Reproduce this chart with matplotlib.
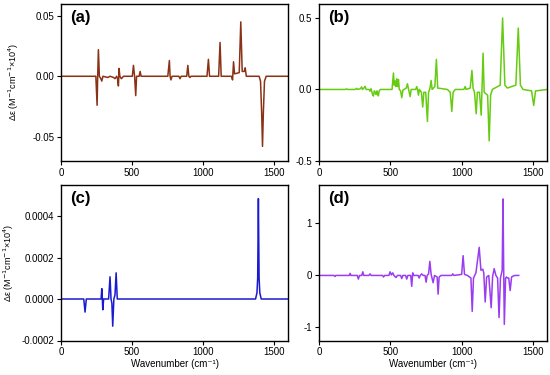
import matplotlib
matplotlib.use("Agg")
import matplotlib.pyplot as plt
from matplotlib.ticker import FormatStrFormatter

plt.rcParams['font.family'] = ['Liberation Sans', 'DejaVu Sans']
plt.rcParams['axes.unicode_minus'] = False

# panel (a) - wavenumber / delta eps
a_x = [0, 245, 254, 258, 263, 270, 280, 287, 295, 330, 345, 370, 380, 392, 398, 404, 409, 414,
       425, 440, 502, 510, 518, 526, 532, 550, 557, 564, 752, 763, 768, 774, 782, 830, 838, 846,
       885, 893, 900, 908, 915, 1028, 1038, 1046, 1110, 1120, 1128, 1200, 1208, 1215, 1222,
       1255, 1266, 1276, 1290, 1297, 1305, 1395, 1405, 1413, 1419, 1425, 1433, 1445, 1600]
a_y = [0, 0, -0.024, 0, 0.022, 0.0, -0.002, -0.004, 0, -0.001, 0, -0.001, -0.002, 0, -0.002,
       -0.008, 0.0065, 0, -0.002, 0, 0, 0.009, 0.0, -0.016, 0, 0, 0.004, 0, 0, 0.013, 0, -0.003,
       0, 0, -0.002, 0, 0, 0.009, 0, -0.001, 0, 0, 0.014, 0, 0, 0.028, 0, 0, -0.003, 0.012,
       0.002, 0.003, 0.045, 0.004, 0.004, 0.007, 0, 0, -0.004, -0.03, -0.058, -0.03, -0.004, 0, 0]

# panel (b)
b_x = [0, 185, 194, 200, 255, 264, 270, 290, 299, 305, 315, 323, 330, 350, 358, 365, 374, 381,
       388, 394, 400, 406, 411, 416, 422, 430, 512, 522, 527, 533, 539, 545, 551, 557, 563, 572,
       580, 588, 612, 620, 628, 639, 646, 678, 685, 691, 697, 704, 718, 727, 735, 748, 760, 768,
       778, 786, 793, 812, 823, 832, 900, 920, 931, 940, 955, 1010, 1020, 1025, 1032, 1060, 1072,
       1080, 1090, 1102, 1110, 1125, 1137, 1142, 1150, 1158, 1182, 1193, 1203, 1215, 1270, 1287,
       1303, 1320, 1380, 1397, 1412, 1430, 1490, 1505, 1518, 1600]
b_y = [0, 0, 0.004, 0, 0, 0.008, 0.0, 0.005, 0.018, 0.0, 0.01, 0.022, 0.0, 0, -0.012, 0.005,
       -0.03, -0.046, -0.01, -0.02, -0.035, -0.01, -0.025, -0.045, -0.01, 0, 0, 0.115, 0.03, 0.06,
       0.02, 0.075, 0.02, 0.07, 0, -0.01, -0.058, -0.005, 0.01, 0.04, 0, -0.05, 0, 0, 0.02, 0,
       -0.04, 0, -0.02, -0.123, -0.02, -0.02, -0.224, -0.02, 0.01, 0.063, 0.0, 0.02, 0.21, 0.01,
       0, -0.02, -0.154, -0.02, 0, 0, 0.005, 0.02, 0, 0.01, 0.133, 0.01, -0.02, -0.17, -0.02,
       -0.02, -0.18, -0.02, 0.254, -0.02, -0.04, -0.36, -0.04, 0, 0.03, 0.5, 0.03, 0.01, 0.03,
       0.43, 0.03, 0.0, -0.01, -0.112, -0.01, 0]

# panel (c)
c_x = [0, 160, 169, 178, 282, 287, 291, 294, 300, 335, 345, 352, 358, 364, 372, 380, 388, 396,
       410, 1370, 1380, 1385, 1390, 1395, 1400, 1410, 1600]
c_y = [0, 0, -0.000063, 0, 0, 0.00005, 0.0, -0.000052, 0, 0, 0.000107, 0.0, -0.00002,
       -0.000131, 0, 0.00002, 0.000126, 0, 0, 0, 0.00003, 0.0001, 0.000484, 0.0001, 0.00003, 0, 0]

# panel (d)
d_x = [0, 105, 112, 118, 212, 218, 224, 268, 276, 284, 300, 307, 314, 350, 358, 366, 445, 452,
       460, 490, 498, 507, 517, 525, 540, 550, 572, 580, 588, 607, 615, 623, 643, 650, 657, 664,
       695, 702, 710, 720, 730, 743, 751, 758, 768, 777, 786, 800, 810, 828, 835, 842, 855, 930,
       938, 946, 1000, 1010, 1020, 1040, 1065, 1074, 1083, 1100, 1123, 1135, 1148, 1155, 1165,
       1175, 1190, 1207, 1217, 1228, 1240, 1252, 1262, 1272, 1284, 1290, 1295, 1299, 1308, 1315,
       1321, 1330, 1340, 1350, 1362, 1375, 1400]
d_y = [0, 0, -0.02, 0, 0, 0.04, 0, 0, -0.07, 0, 0, 0.07, 0, 0, 0.03, 0, 0, -0.03, 0, 0, 0.07,
       0.01, 0.05, 0.0, -0.04, 0, 0, -0.06, 0, 0, -0.07, 0, 0, -0.21, 0.05, 0, 0, -0.05, 0, 0.03,
       0, 0, -0.13, 0, 0.03, 0.27, 0.02, -0.14, 0.0, -0.03, -0.36, -0.03, 0, 0, 0.03, 0, 0.02,
       0.38, 0.02, 0.0, -0.05, -0.69, -0.05, 0.05, 0.54, 0.1, 0.12, 0.05, -0.51, -0.03, 0.0,
       -0.62, -0.02, 0.13, 0.0, -0.05, -0.81, -0.05, 0.1, 1.47, 0.0, -0.94, -0.05, -0.03, -0.05,
       -0.05, -0.29, -0.03, -0.01, 0, 0]

x_ticks = [0, 500, 1000, 1500]

fig = plt.figure(figsize=(5.5, 3.75), dpi=100)
ax_a = fig.add_axes([0.111, 0.571, 0.413, 0.419])
ax_b = fig.add_axes([0.580, 0.571, 0.415, 0.419])
ax_c = fig.add_axes([0.111, 0.092, 0.413, 0.415])
ax_d = fig.add_axes([0.580, 0.092, 0.415, 0.415])

ax_a.plot(a_x, a_y, color='#8a3216', lw=1.1)
ax_b.plot(b_x, b_y, color='#66cc11', lw=1.1)
ax_c.plot(c_x, c_y, color='#1a1ad0', lw=1.1)
ax_d.plot(d_x, d_y, color='#9a3cf0', lw=1.1)

ax_a.set_ylim(-0.07, 0.06)
ax_a.set_yticks([-0.05, 0.0, 0.05])
ax_a.yaxis.set_major_formatter(FormatStrFormatter('%.2f'))
ax_b.set_ylim(-0.5, 0.6)
ax_b.set_yticks([-0.5, 0.0, 0.5])
ax_b.yaxis.set_major_formatter(FormatStrFormatter('%.1f'))
ax_c.set_ylim(-0.0002, 0.00055)
ax_c.set_yticks([-0.0002, 0.0, 0.0002, 0.0004])
ax_c.yaxis.set_major_formatter(FormatStrFormatter('%.4f'))
ax_d.set_ylim(-1.25, 1.74)
ax_d.set_yticks([-1, 0, 1])
ax_d.yaxis.set_major_formatter(FormatStrFormatter('%d'))

ylab = 'Δε (M$^{-1}$cm$^{-1}$×10$^{4}$)'
for ax, lab in [(ax_a, '(a)'), (ax_b, '(b)'), (ax_c, '(c)'), (ax_d, '(d)')]:
    ax.set_xlim(0, 1600)
    ax.set_xticks(x_ticks)
    ax.tick_params(direction='out', length=3, width=0.8, labelsize=7, pad=2)
    for s in ax.spines.values():
        s.set_linewidth(1.0)
    ax.text(0.04, 0.96, lab, transform=ax.transAxes, fontsize=12, fontweight='bold',
            va='top', ha='left')

ax_a.set_ylabel(ylab, fontsize=6.5, labelpad=8)
ax_c.set_ylabel(ylab, fontsize=6.5, labelpad=4)
ax_c.set_xlabel('Wavenumber (cm⁻¹)', fontsize=7, labelpad=1)
ax_d.set_xlabel('Wavenumber (cm⁻¹)', fontsize=7, labelpad=1)

fig.savefig('out.png', dpi=100)
